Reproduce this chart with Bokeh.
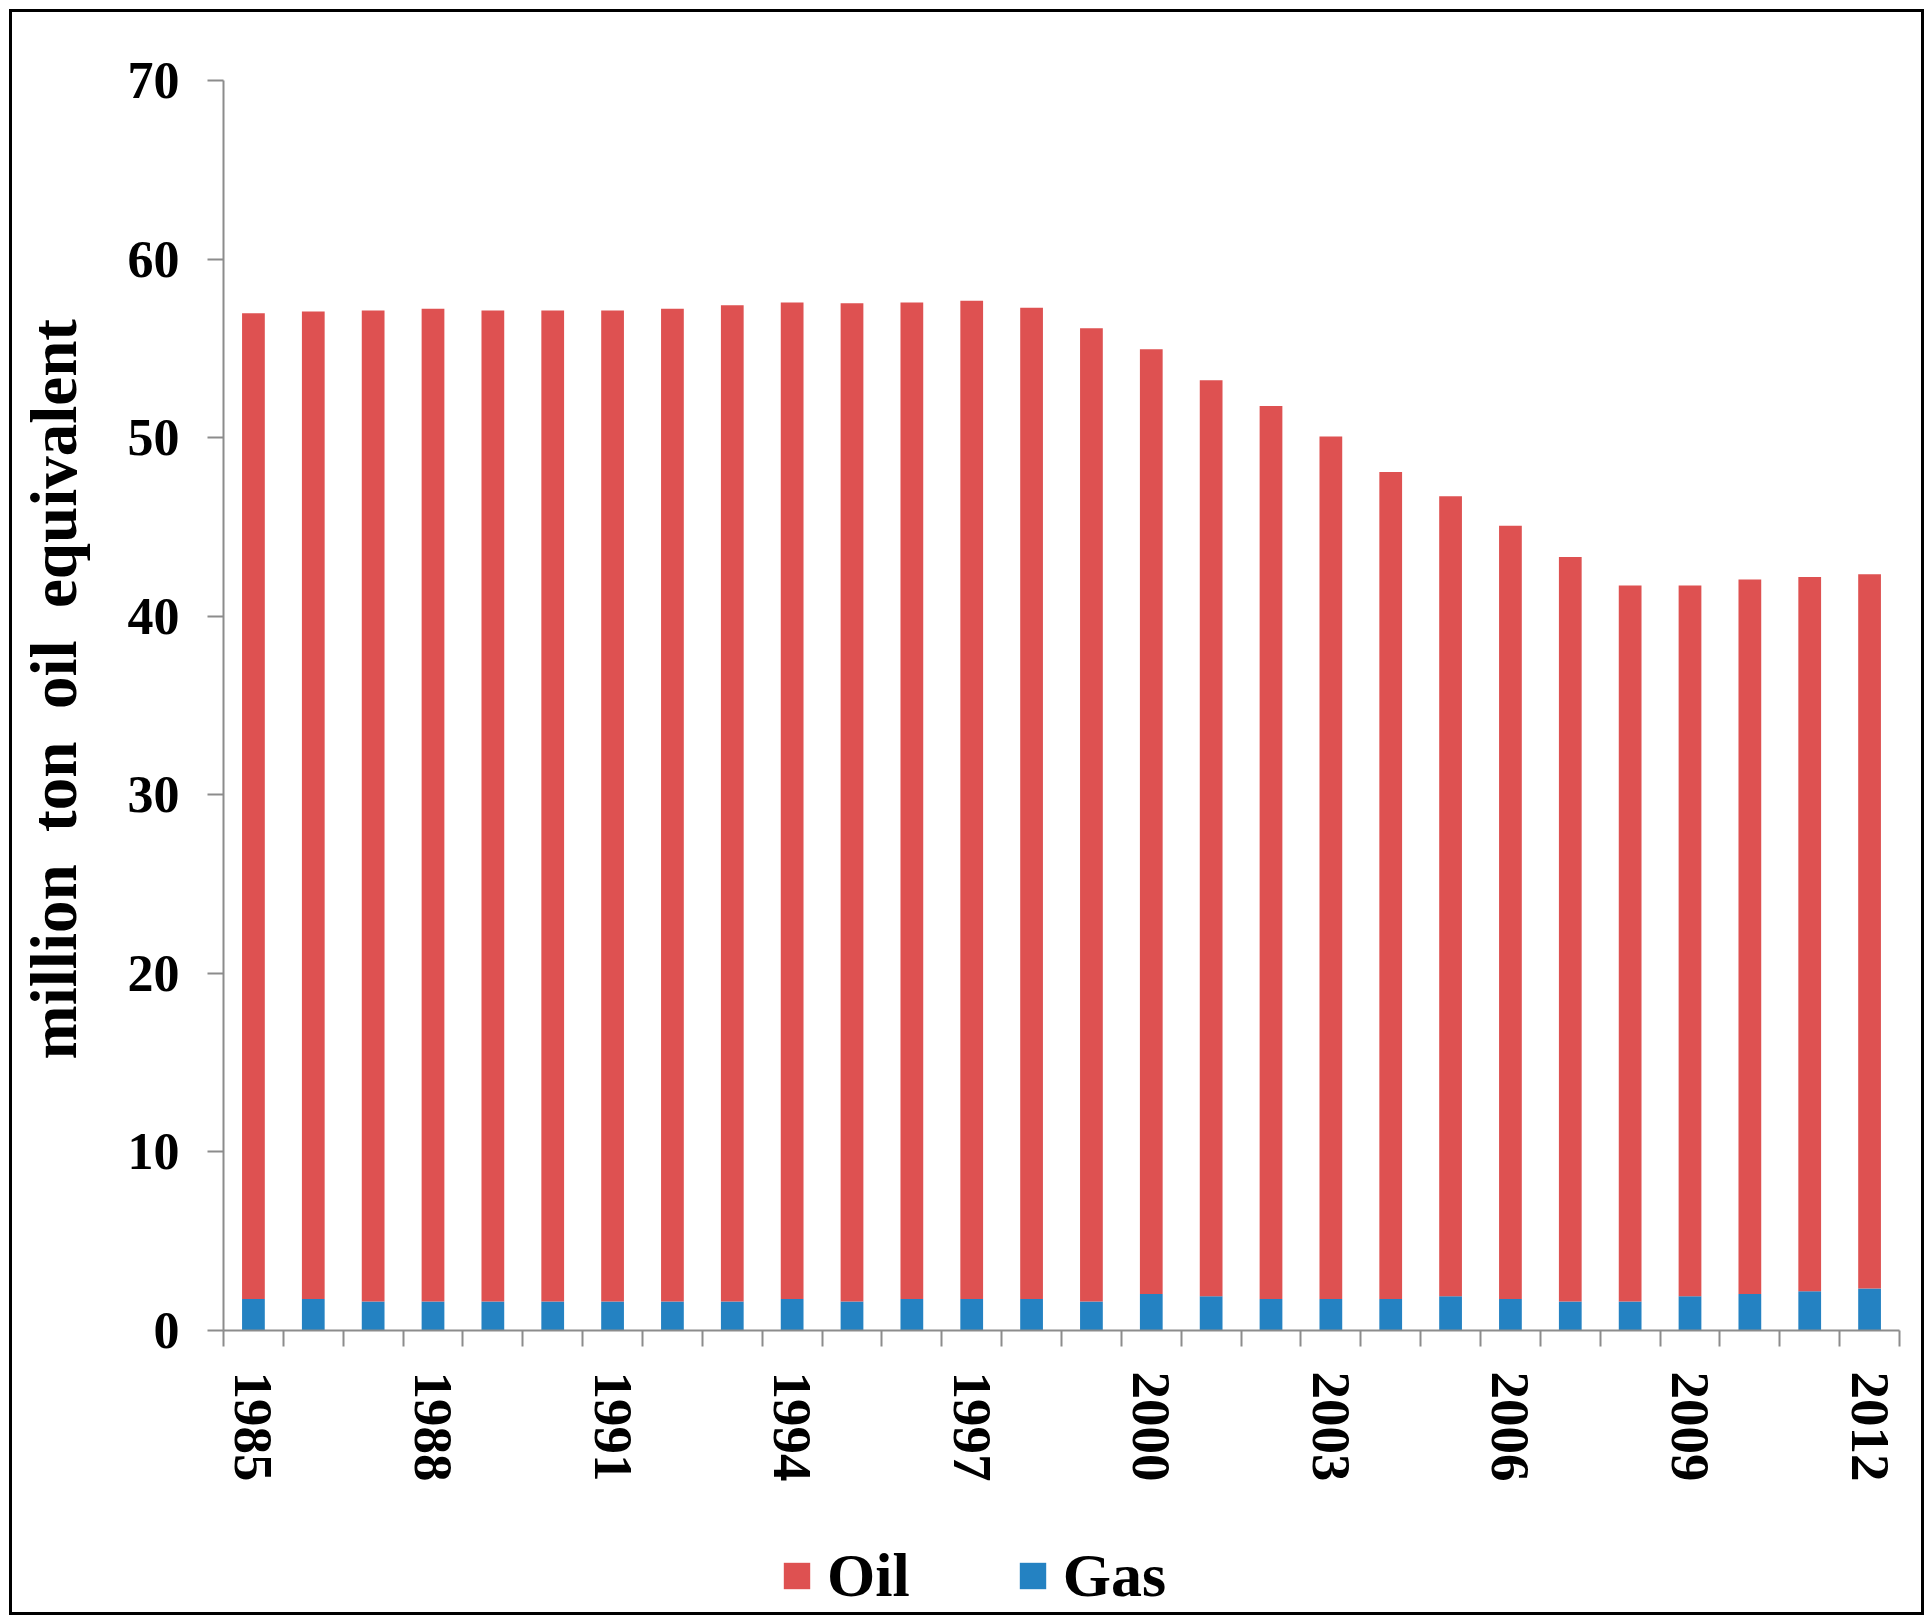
import math
from bokeh.plotting import figure
from bokeh.layouts import column
from bokeh.models import ColumnDataSource, FixedTicker, Range1d, Legend, LegendItem
from bokeh.embed import file_html
from bokeh.resources import INLINE

years = list(range(1985, 2013))
oil = [55.2, 55.3, 55.5, 55.6, 55.5, 55.5, 55.5, 55.6, 55.8, 55.8,
       55.9, 55.8, 55.9, 55.5, 54.5, 52.9, 51.3, 50.0, 48.3, 46.3,
       44.8, 43.3, 41.7, 40.1, 39.8, 40.0, 40.0, 40.0]
gas = [1.77, 1.77, 1.62, 1.62, 1.62, 1.62, 1.62, 1.62, 1.62, 1.77,
       1.62, 1.77, 1.77, 1.77, 1.62, 2.05, 1.92, 1.77, 1.77, 1.77,
       1.92, 1.77, 1.62, 1.62, 1.92, 2.05, 2.2, 2.35]
label_years = [1985, 1988, 1991, 1994, 1997, 2000, 2003, 2006, 2009, 2012]
y_ticks = [0, 10, 20, 30, 40, 50, 60, 70]
series_names = ["Oil", "Gas"]
y_title = "\u00a0\u00a0million \u00a0ton \u00a0oil \u00a0equivalent"

RED = "#DE5151"
BLUE = "#2482C2"
FONT = "Liberation Serif"
AXC = "#8c8c8c"
W = 1909

source = ColumnDataSource(dict(year=years, oil=oil, gas=gas))

p = figure(width=W, height=1520, output_backend="svg", toolbar_location=None,
           x_range=Range1d(years[0] - 0.5, years[-1] + 0.5),
           y_range=Range1d(0, 70),
           min_border_left=211, min_border_right=22, min_border_top=68,
           min_border_bottom=202)

gas_r, oil_r = p.vbar_stack(["gas", "oil"], x="year", width=0.38,
                            color=[BLUE, RED], line_color=None, source=source)

p.xgrid.visible = False
p.ygrid.visible = False
p.outline_line_color = None

# y axis
ya = p.yaxis[0]
ya.ticker = FixedTicker(ticks=y_ticks)
ya.axis_line_color = AXC
ya.axis_line_width = 2
ya.major_tick_line_color = AXC
ya.major_tick_line_width = 2
ya.major_tick_out = 16
ya.major_tick_in = 0
ya.minor_tick_line_color = None
ya.major_label_text_font = FONT
ya.major_label_text_font_style = "bold"
ya.major_label_text_font_size = "52px"
ya.major_label_text_color = "black"
ya.major_label_standoff = 28
ya.axis_label = y_title
ya.axis_label_text_font = FONT
ya.axis_label_text_font_style = "bold"
ya.axis_label_text_font_size = "65px"
ya.axis_label_text_color = "black"
ya.axis_label_standoff = 35

# x axis
xa = p.xaxis[0]
xa.ticker = FixedTicker(ticks=label_years,
                        minor_ticks=[y - 0.5 for y in years] + [years[-1] + 0.5])
xa.major_label_overrides = {y: str(y) for y in label_years}
xa.axis_line_color = AXC
xa.axis_line_width = 2
xa.major_tick_line_color = None
xa.major_tick_out = 16
xa.major_tick_in = 0
xa.minor_tick_line_color = AXC
xa.minor_tick_line_width = 2
xa.minor_tick_out = 16
xa.minor_tick_in = 0
xa.major_label_orientation = -math.pi / 2
xa.major_label_text_font = FONT
xa.major_label_text_font_style = "bold"
xa.major_label_text_font_size = "55px"
xa.major_label_text_color = "black"
xa.major_label_standoff = 25

# legend strip (legend proxies are zero-height bars, so nothing shows but the key)
lg = figure(width=W, height=80, output_backend="svg", toolbar_location=None,
            x_axis_type=None, y_axis_type=None, min_border=0,
            x_range=Range1d(0, 1), y_range=Range1d(0, 1))
lg.xgrid.visible = False
lg.ygrid.visible = False
lg.outline_line_color = None
proxy = ColumnDataSource(dict(x=[0.5], top=[0.0]))
oil_leg = lg.vbar(x="x", top="top", bottom=0, width=0.001, color=RED,
                  line_color=None, source=proxy)
gas_leg = lg.vbar(x="x", top="top", bottom=0, width=0.001, color=BLUE,
                  line_color=None, source=proxy)

legend = Legend(items=[LegendItem(label=series_names[0], renderers=[oil_leg]),
                       LegendItem(label=series_names[1], renderers=[gas_leg])],
                orientation="horizontal", location=(557, 1),
                glyph_width=33, glyph_height=33, label_standoff=14, spacing=106,
                padding=0, margin=0, border_line_color=None,
                background_fill_alpha=0,
                label_text_font=FONT, label_text_font_style="bold",
                label_text_font_size="62px", label_text_color="black")
lg.add_layout(legend, "center")

layout = column(p, lg, spacing=0,
                styles={"border": "3px solid black", "margin-left": "9px",
                        "margin-top": "9px"})

open("out.html", "w").write(file_html(layout, INLINE))
